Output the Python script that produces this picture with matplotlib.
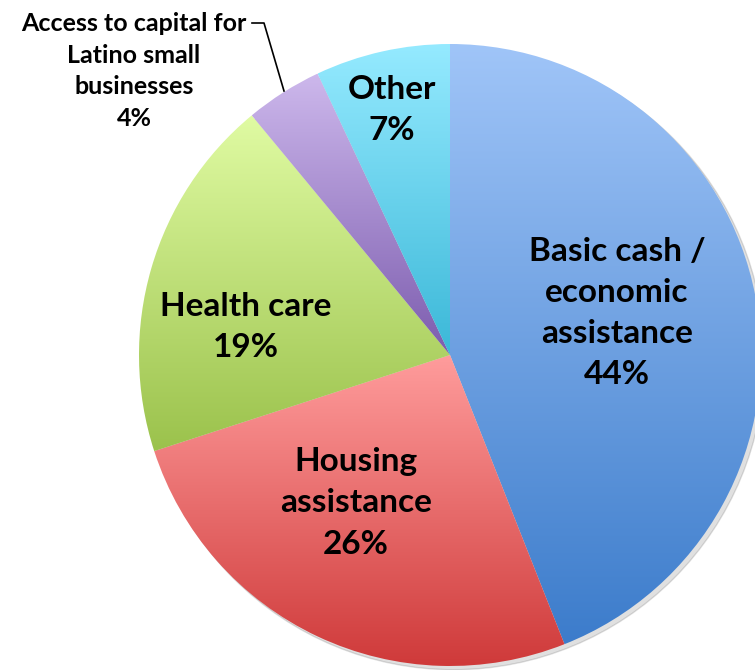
import numpy as np
import matplotlib.pyplot as plt
from matplotlib.colors import LinearSegmentedColormap

# Slice data (clockwise from 12 o'clock)
labels = ["Basic cash /\neconomic\nassistance", "Housing\nassistance", "Health care",
          "Access to capital for\nLatino small\nbusinesses", "Other"]
shares = [44, 26, 19, 4, 7]
top_colors = ["#a0c5f8", "#ff9c9c", "#e0fba3", "#cdb8ec", "#95eaff"]
bottom_colors = ["#3c7ccb", "#cf3a3a", "#9bc24c", "#7c5cae", "#3bb8d8"]

plt.rcParams['font.family'] = ['Lato', 'DejaVu Sans']

fig = plt.figure(figsize=(7.55, 6.70), dpi=100)
ax = fig.add_axes([0, 0, 1, 1])
R = 311.0

# soft shadow
shadow = plt.Circle((0.012, -0.012), 1.0, color="#000000", alpha=0.12, zorder=0)
ax.add_patch(shadow)

wedges, _ = ax.pie(shares, startangle=90, counterclock=False, radius=1.0,
                   wedgeprops=dict(linewidth=0))

grad = np.linspace(0, 1, 256).reshape(-1, 1)
for w, c0, c1 in zip(wedges, top_colors, bottom_colors):
    w.set_facecolor("none")
    bb = w.get_path().get_extents(w.get_patch_transform())
    cmap = LinearSegmentedColormap.from_list("g", [c0, c1])
    im = ax.imshow(grad, cmap=cmap, aspect='auto', origin='upper',
                   extent=[bb.x0, bb.x1, bb.y0, bb.y1], zorder=1,
                   interpolation='bilinear')
    im.set_clip_path(w)

ax.set_xlim(-450 / R, 305 / R)
ax.set_ylim(-315 / R, 355 / R)
ax.set_aspect('equal')
ax.axis('off')


def px(x, y):
    return (x - 450) / R, (355 - y) / R


big = dict(fontsize=24, fontweight='bold', ha='center', va='center',
           linespacing=1.5, zorder=5)
ax.text(*px(617, 313), labels[0] + "\n44%", **big)
ax.text(*px(356, 503), labels[1] + "\n26%", **big)
ax.text(*px(246, 327), labels[2] + "\n19%", **big)
ax.text(*px(392, 110), labels[4] + "\n7%", **big)
ax.text(*px(134, 71), labels[3] + "\n4%", fontsize=18, fontweight='bold',
        ha='center', va='center', linespacing=1.45, zorder=5)

# leader line for the small slice
lx, ly = zip(px(252, 23), px(264, 23), px(284, 91))
ax.plot(lx, ly, color='black', lw=1.2, zorder=4)

fig.savefig("out.png", dpi=100)
